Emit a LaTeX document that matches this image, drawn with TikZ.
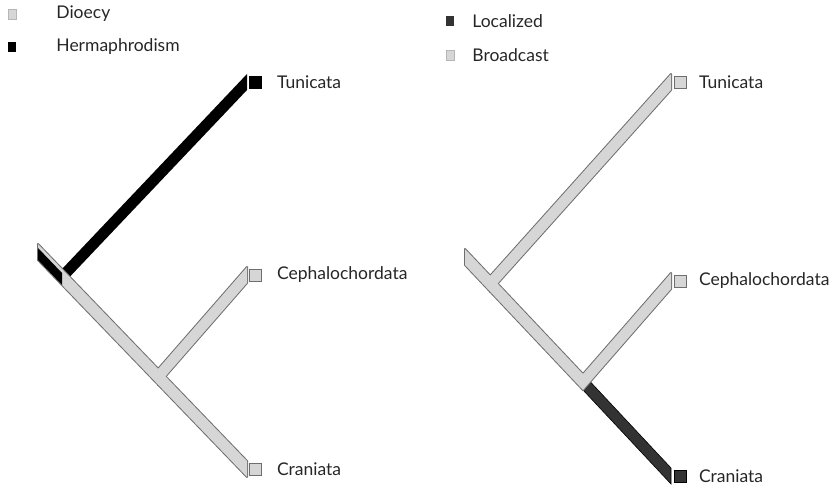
\documentclass[tikz,border=0pt]{standalone}
\usepackage{fontspec}
\setmainfont{Lato}
\usetikzlibrary{positioning,calc}
\definecolor{bandgray}{HTML}{D6D6D6}
\definecolor{edgegray}{HTML}{6E6E6E}
\definecolor{localdark}{HTML}{333333}
% a branch band with vertical ends between two named points
\newcommand{\band}[3][]{\path[#1] ([yshift=8pt]#2) -- ([yshift=8pt]#3) -- ([yshift=-8pt]#3) -- ([yshift=-8pt]#2) -- cycle;}

\begin{document}
\begin{tikzpicture}[x=1pt, y=-1pt, font=\fontsize{17.5}{20}\selectfont]
    % Styles
    \tikzstyle{tip} = [draw=edgegray, line width=0.8pt, minimum size=12pt, inner sep=0pt]
    \tikzstyle{taxon} = [anchor=west, inner sep=0pt, text=black!85]
    \tikzstyle{key} = [minimum width=8pt, minimum height=10pt, inner sep=0pt]
    \tikzstyle{edge} = [draw=edgegray, line width=2pt, line join=round]
    \tikzstyle{gray band} = [fill=bandgray]

    \useasboundingbox (0,0) rectangle (835,486);

    % Legends
    \node [key, fill=bandgray, draw=bandgray!85!black, line width=0.4pt] (KeyDio) at (12,14) {};
    \node [taxon, right=40pt of KeyDio] {Dioecy};
    \node [key, fill=black] (KeyHer) at (12,47) {};
    \node [taxon, right=40pt of KeyHer] {Hermaphrodism};
    \node [key, fill=localdark] (KeyLoc) at (450,21) {};
    \node [taxon, right=18pt of KeyLoc] {Localized};
    \node [key, fill=bandgray, draw=bandgray!85!black, line width=0.4pt] (KeyBro) at (450,55) {};
    \node [taxon, right=18pt of KeyBro] {Broadcast};

    % Left tree
    \coordinate (L-root) at (38,252);
    \coordinate (L-j1) at (62,277);
    \coordinate (L-j2) at (158,377);
    \coordinate (L-tun) at (247,82);
    \coordinate (L-ceph) at (247,275);
    \coordinate (L-cran) at (247,469);

    \band[fill=black]{L-j1}{L-tun}
    \band[edge]{L-root}{L-cran}
    \band[edge]{L-j2}{L-ceph}
    \band[gray band]{L-root}{L-cran}
    \band[gray band]{L-j2}{L-ceph}
    \path[fill=black] ([yshift=4pt]L-root) -- ([yshift=4pt]L-j1) -- ([yshift=-8pt]L-j1) -- ([yshift=-8pt]L-root) -- cycle;

    \node [tip, fill=black, draw=black, right=2pt of L-tun] (L-tun-box) {};
    \node [taxon, right=15pt of L-tun-box] {Tunicata};
    \node [tip, fill=bandgray, right=2pt of L-ceph] (L-ceph-box) {};
    \node [taxon, right=15pt of L-ceph-box] {Cephalochordata};
    \node [tip, fill=bandgray, right=2pt of L-cran] (L-cran-box) {};
    \node [taxon, right=15pt of L-cran-box] {Craniata};

    % Right tree
    \coordinate (R-root) at (465,257);
    \coordinate (R-j1) at (490,284);
    \coordinate (R-j2) at (583,382);
    \coordinate (R-tun) at (671,82);
    \coordinate (R-ceph) at (671,281);
    \coordinate (R-cran) at (671,476);

    \band[fill=localdark, draw=black, line width=0.6pt]{R-j2}{R-cran}
    \band[edge]{R-root}{R-j2}
    \band[edge]{R-j1}{R-tun}
    \band[edge]{R-j2}{R-ceph}
    \band[gray band]{R-root}{R-j2}
    \band[gray band]{R-j1}{R-tun}
    \band[gray band]{R-j2}{R-ceph}

    \node [tip, fill=bandgray, right=3pt of R-tun] (R-tun-box) {};
    \node [taxon, right=12pt of R-tun-box] {Tunicata};
    \node [tip, fill=bandgray, right=3pt of R-ceph] (R-ceph-box) {};
    \node [taxon, right=12pt of R-ceph-box] {Cephalochordata};
    \node [tip, fill=localdark, draw=black, right=3pt of R-cran] (R-cran-box) {};
    \node [taxon, right=12pt of R-cran-box] {Craniata};
\end{tikzpicture}
\end{document}
